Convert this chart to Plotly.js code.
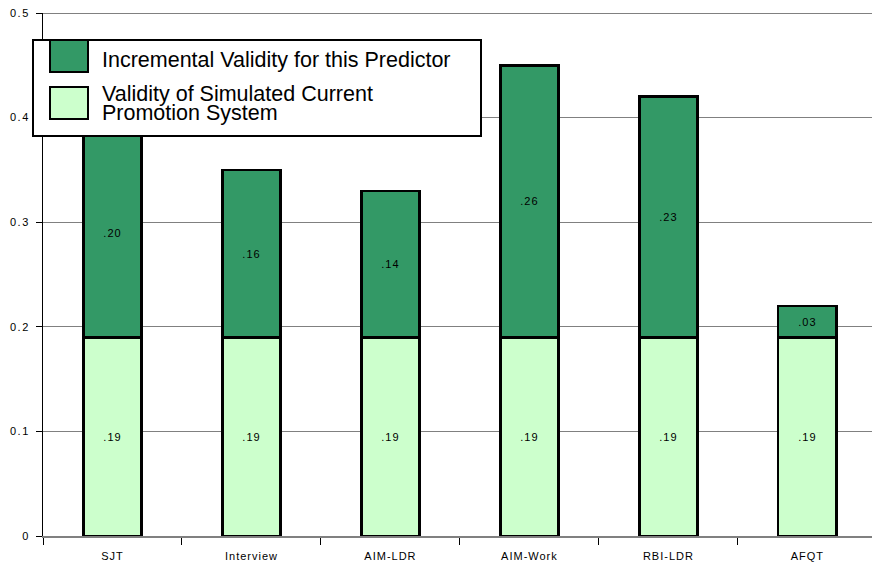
<!DOCTYPE html>
<html>
<head>
<meta charset="utf-8">
<script src="https://cdn.plot.ly/plotly-3.0.1.min.js"></script>
<style>
html,body{margin:0;padding:0;background:#fff;}
#chart{width:872px;height:565px;}
#chart .xtick text{letter-spacing:1px;}
#chart .ytick text{letter-spacing:1.5px;}
#chart text.bartext{letter-spacing:1px;}
</style>
</head>
<body>
<div id="chart"></div>
<script>
// Data
const categories = ["SJT", "Interview", "AIM-LDR", "AIM-Work", "RBI-LDR", "AFQT"];
const baseValidity = [0.19, 0.19, 0.19, 0.19, 0.19, 0.19];
const incrementalValidity = [0.20, 0.16, 0.14, 0.26, 0.23, 0.03];
const seriesNames = ["Incremental Validity for this Predictor", "Validity of Simulated Current Promotion System"];
const legendLines2 = ["Validity of Simulated Current", "Promotion System"];
const yTickVals = [0, 0.1, 0.2, 0.3, 0.4, 0.5];
const yTickText = ["0", "0.1", "0.2", "0.3", "0.4", "0.5"];

const fmt = v => "." + String(Math.round(v * 100)).padStart(2, "0");
const FONT = "Arial, 'Liberation Sans', sans-serif";

// plot-area geometry in pixels (for legend box placement)
const L = 43, R = 0, T = 13, B = 29, W = 872, H = 565;
const pw = W - L - R, ph = H - T - B;
const px = x => (x - L) / pw;
const py = y => (H - B - y) / ph;

const traces = [
  {
    type: "bar", name: seriesNames[1], x: categories, y: baseValidity,
    text: baseValidity.map(fmt), textposition: "inside", insidetextanchor: "middle",
    textfont: {family: FONT, size: 11, color: "#000"},
    marker: {color: "#CCFFCC", line: {color: "#000", width: 2.6}},
    width: 0.42, hoverinfo: "x+y"
  },
  {
    type: "bar", name: seriesNames[0], x: categories, y: incrementalValidity,
    text: incrementalValidity.map(fmt), textposition: "inside", insidetextanchor: "middle",
    textfont: {family: FONT, size: 11, color: "#000"},
    marker: {color: "#339966", line: {color: "#000", width: 2.6}},
    width: 0.42, hoverinfo: "x+y"
  }
];

const layout = {
  width: W, height: H,
  margin: {l: L, r: R, t: T, b: B, pad: 0},
  paper_bgcolor: "#fff", plot_bgcolor: "#fff",
  barmode: "stack",
  showlegend: false,
  font: {family: FONT, size: 11, color: "#000"},
  xaxis: {
    type: "category", range: [-0.5, 5.465],
    showgrid: false, zeroline: false,
    showline: true, linecolor: "#808080", linewidth: 2,
    ticks: "outside", tickson: "boundaries", ticklen: 7, tickcolor: "#000", tickwidth: 1,
    ticklabelstandoff: 9,
    tickfont: {family: FONT, size: 11, color: "#000"}
  },
  yaxis: {
    range: [0, 0.5], tickvals: yTickVals, ticktext: yTickText,
    showgrid: true, gridcolor: "#808080", gridwidth: 1,
    zeroline: false,
    showline: true, linecolor: "#000", linewidth: 1,
    ticks: "outside", ticklen: 6, tickcolor: "#000",
    ticklabelstandoff: 4,
    tickfont: {family: FONT, size: 11, color: "#000"}
  },
  shapes: [
    // top boundary line at 0.5
    {type: "line", xref: "paper", yref: "y", x0: 0, x1: 1, y0: 0.5, y1: 0.5,
     line: {color: "#808080", width: 2}, layer: "below"},
    // legend box
    {type: "rect", xref: "paper", yref: "paper", x0: px(33), x1: px(481), y0: py(40), y1: py(136),
     fillcolor: "#fff", line: {color: "#000", width: 2}},
    {type: "rect", xref: "paper", yref: "paper", x0: px(50), x1: px(88), y0: py(40), y1: py(72),
     fillcolor: "#339966", line: {color: "#000", width: 2}},
    {type: "rect", xref: "paper", yref: "paper", x0: px(50), x1: px(88), y0: py(87), y1: py(119),
     fillcolor: "#CCFFCC", line: {color: "#000", width: 2}}
  ],
  annotations: [
    {xref: "paper", yref: "paper", x: px(100), y: py(60), xanchor: "left", yanchor: "middle",
     text: seriesNames[0], showarrow: false, font: {family: FONT, size: 21.5, color: "#000"}},
    {xref: "paper", yref: "paper", x: px(100), y: py(94), xanchor: "left", yanchor: "middle",
     text: legendLines2[0], showarrow: false, font: {family: FONT, size: 21.5, color: "#000"}},
    {xref: "paper", yref: "paper", x: px(100), y: py(113), xanchor: "left", yanchor: "middle",
     text: legendLines2[1], showarrow: false, font: {family: FONT, size: 21.5, color: "#000"}}
  ]
};

Plotly.newPlot("chart", traces, layout, {displayModeBar: false, staticPlot: true});
</script>
</body>
</html>
